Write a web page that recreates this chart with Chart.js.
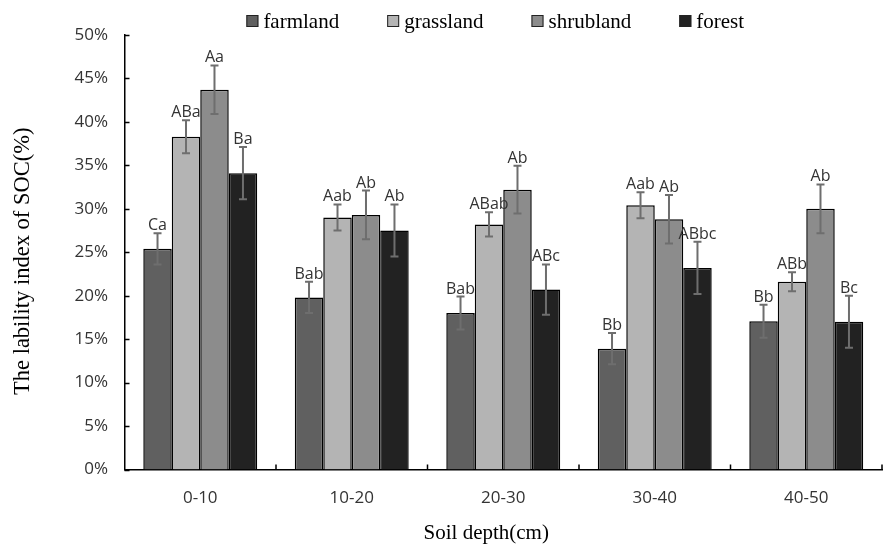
<!DOCTYPE html>
<html><head><meta charset="utf-8">
<script src="https://cdn.jsdelivr.net/npm/chart.js@4.4.0/dist/chart.umd.min.js"></script>
<style>html,body{margin:0;padding:0;background:#fff}#wrap{width:884px;height:546px}</style>
</head><body><div id="wrap"><canvas id="c" width="884" height="546"></canvas></div>
<script>
const categories = ['0-10', '10-20', '20-30', '30-40', '40-50'];
const seriesNames = ['farmland', 'grassland', 'shrubland', 'forest'];
const farmland = [25.4, 19.8, 18.0, 13.9, 17.05];
const grassland = [38.3, 29.0, 28.2, 30.4, 21.6];
const shrubland = [43.7, 29.3, 32.2, 28.8, 30.0];
const forest = [34.1, 27.5, 20.7, 23.2, 17.0];
const farmlandErr = [1.8, 1.8, 1.9, 1.8, 1.9];
const grasslandErr = [1.9, 1.5, 1.4, 1.5, 1.1];
const shrublandErr = [2.8, 2.8, 2.75, 2.8, 2.8];
const forestErr = [3.0, 3.0, 2.9, 3.0, 3.0];
const farmlandSig = ['Ca', 'Bab', 'Bab', 'Bb', 'Bb'];
const grasslandSig = ['ABa', 'Aab', 'ABab', 'Aab', 'ABb'];
const shrublandSig = ['Aa', 'Ab', 'Ab', 'Ab', 'Ab'];
const forestSig = ['Ba', 'Ab', 'ABc', 'ABbc', 'Bc'];
const yTickValues = [0, 5, 10, 15, 20, 25, 30, 35, 40, 45, 50];
const xTitle = 'Soil depth(cm)';
const yTitle = 'The lability index of SOC(%)';

const colors = ['#606060', '#b4b4b4', '#8c8c8c', '#222222'];
const values = [farmland, grassland, shrubland, forest];
const errors = [farmlandErr, grasslandErr, shrublandErr, forestErr];
const sigs = [farmlandSig, grasslandSig, shrublandSig, forestSig];

const datasets = seriesNames.map((n, i) => ({
  label: n,
  data: values[i],
  backgroundColor: colors[i],
  borderColor: '#000',
  borderWidth: 1.5,
  categoryPercentage: 0.752,
  barPercentage: 1.0
}));

const extrasPlugin = {
  id: 'extras',
  afterDatasetsDraw(chart) {
    const ctx = chart.ctx;
    const y = chart.scales.y, x = chart.scales.x;
    ctx.save();
    chart.data.datasets.forEach((ds, i) => {
      const meta = chart.getDatasetMeta(i);
      meta.data.forEach((bar, j) => {
        const v = values[i][j], e = errors[i][j];
        const top = y.getPixelForValue(v + e), bot = y.getPixelForValue(v - e);
        ctx.strokeStyle = '#6e6e6e';
        ctx.lineWidth = 2;
        ctx.beginPath();
        ctx.moveTo(bar.x, top); ctx.lineTo(bar.x, bot);
        ctx.moveTo(bar.x - 4, top); ctx.lineTo(bar.x + 4, top);
        ctx.moveTo(bar.x - 4, bot); ctx.lineTo(bar.x + 4, bot);
        ctx.stroke();
        ctx.fillStyle = '#333';
        ctx.font = '16px "Open Sans"';
        ctx.textAlign = 'center';
        ctx.textBaseline = 'alphabetic';
        ctx.fillText(sigs[i][j], bar.x, top - 3);
      });
    });
    ctx.strokeStyle = '#000';
    ctx.lineWidth = 1.5;
    ctx.beginPath();
    yTickValues.forEach(t => {
      const py = Math.round(y.getPixelForValue(t)) + 0.5;
      ctx.moveTo(x.left, py); ctx.lineTo(x.left + 5, py);
    });
    const n = categories.length;
    for (let k = 1; k <= n; k++) {
      const px = x.left + (x.right - x.left) * k / n;
      ctx.moveTo(px, y.bottom); ctx.lineTo(px, y.bottom - 5);
    }
    ctx.stroke();
    ctx.restore();
  },
  afterDraw(chart) {
    const ctx = chart.ctx;
    const ca = chart.chartArea;
    ctx.save();
    // legend
    ctx.font = '21px "Liberation Serif"';
    const box = 12, gapText = 5, gap = 48;
    const widths = seriesNames.map(s => box + gapText + ctx.measureText(s).width);
    const total = widths.reduce((a, b) => a + b, 0) + gap * (seriesNames.length - 1);
    let sx = (ca.left + ca.right) / 2 - total / 2 - 8;
    const cy = 21;
    seriesNames.forEach((s, i) => {
      ctx.fillStyle = colors[i];
      ctx.fillRect(sx, cy - box / 2, box, box);
      ctx.strokeStyle = '#222';
      ctx.lineWidth = 1;
      ctx.strokeRect(sx + 0.5, cy - box / 2 + 0.5, box - 1, box - 1);
      ctx.fillStyle = '#000';
      ctx.textAlign = 'left';
      ctx.textBaseline = 'middle';
      ctx.fillText(s, sx + box + gapText, cy + 1);
      sx += widths[i] + gap;
    });
    // axis titles
    ctx.fillStyle = '#000';
    ctx.textAlign = 'center';
    ctx.textBaseline = 'middle';
    ctx.font = '21px "Liberation Serif"';
    ctx.fillText(xTitle, (ca.left + ca.right) / 2 - 17, 533);
    ctx.translate(23, (ca.top + ca.bottom) / 2 + 9);
    ctx.rotate(-Math.PI / 2);
    ctx.font = '22.5px "Liberation Serif"';
    ctx.fillText(yTitle, 0, 0);
    ctx.restore();
  }
};

new Chart(document.getElementById('c'), {
  type: 'bar',
  data: { labels: categories, datasets },
  options: {
    responsive: false,
    animation: false,
    devicePixelRatio: 1,
    layout: { padding: { top: 35, right: 2, left: 0, bottom: 0 } },
    plugins: { legend: { display: false }, tooltip: { enabled: false } },
    scales: {
      x: {
        grid: { display: false, drawTicks: false },
        border: { display: true, color: '#000', width: 1.5 },
        ticks: { color: '#333', font: { family: 'Open Sans', size: 17 }, padding: 18 },
        title: { display: false, text: xTitle },
        afterFit(s) { s.height = 76.5; }
      },
      y: {
        min: 0, max: 50,
        grid: { display: false, drawTicks: false },
        border: { display: true, color: '#000', width: 1.5 },
        afterBuildTicks(s) { s.ticks = yTickValues.map(v => ({ value: v })); },
        ticks: { color: '#333', font: { family: 'Open Sans', size: 17 }, padding: 16.5, callback: v => v + '%' },
        title: { display: false, text: yTitle },
        afterFit(s) { s.width = 124.5; }
      }
    }
  },
  plugins: [extrasPlugin]
});
</script>
</body></html>
